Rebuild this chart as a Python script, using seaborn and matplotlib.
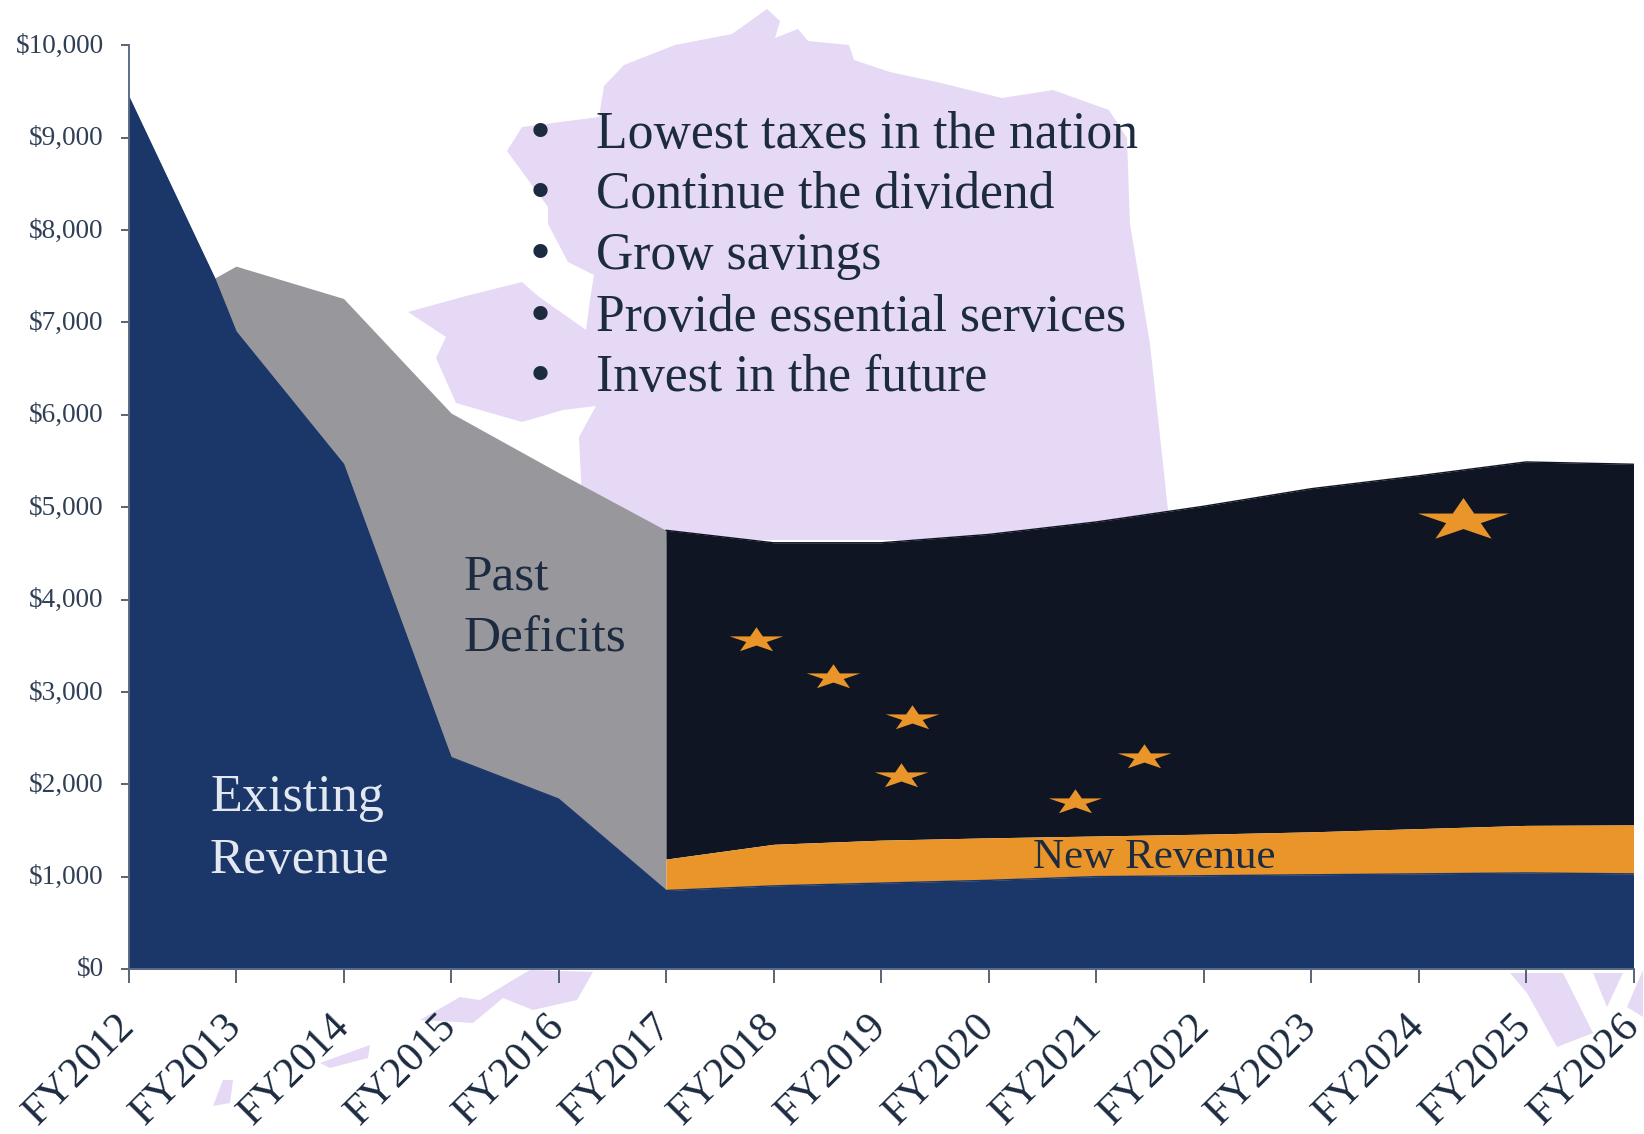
from matplotlib import pyplot as plt
from matplotlib.patches import Polygon
from matplotlib.path import Path
from matplotlib.transforms import ScaledTranslation
import numpy as np
import pandas as pd
import seaborn as sns

years = list(range(2012, 2027))
labels = ["FY" + str(y) for y in years]

# existing revenue, extra point where the grey area starts
existing_years = [2012, 2012.8, 2013, 2014, 2015, 2016, 2017, 2018, 2019, 2020, 2021, 2022, 2023, 2024, 2025, 2026]
existing = [9450, 7480, 6900, 5465, 2290, 1840, 850, 900, 930, 960, 1000, 1010, 1020, 1030, 1040, 1030]

deficit_years = [2012.8, 2013, 2014, 2015, 2016, 2017]
deficit_top = [7480, 7610, 7260, 6020, 5375, 4750]

future_years = [2017, 2018, 2019, 2020, 2021, 2022, 2023, 2024, 2025, 2026]
future_base = [850, 900, 930, 960, 1000, 1010, 1020, 1030, 1040, 1030]
new_revenue_top = [1190, 1350, 1395, 1420, 1440, 1460, 1485, 1520, 1555, 1560]
gap_top = [4750, 4615, 4615, 4705, 4840, 5010, 5200, 5340, 5490, 5465]

star_x = [2017.84, 2018.55, 2019.29, 2019.19, 2020.80, 2021.45]
star_y = [3560, 3160, 2716, 2089, 1807, 2294]
big_star_x = [2024.41]
big_star_y = [4860]

bullets = ["Lowest taxes in the nation", "Continue the dividend", "Grow savings",
           "Provide essential services", "Invest in the future"]

BLUE = "#1b3769"
GREY = "#98979c"
BLACK = "#0f1522"
ORANGE = "#e9952a"
INK = "#1c2b40"
MAP = "#e6d9f5"
W, H = 1644, 1134

sns.set_style("white")
plt.rcParams["font.family"] = ["Liberation Serif", "DejaVu Serif"]

fig = plt.figure(figsize=(W / 100, H / 100), dpi=100)
ax = fig.add_axes([128.5 / W, 1 - 969 / H, 1505 / W, 923.6 / H])
ax.patch.set_alpha(0)


def px(x, y):
    return x / W, 1 - y / H


# map behind the chart, in picture pixels
map_shapes = [
    [(767, 9), (780, 21), (775, 38), (798, 29), (808, 41), (849, 45), (854, 60), (890, 72), (941, 83),
     (1002, 98), (1053, 90), (1109, 110), (1127, 138), (1130, 224), (1150, 344), (1168, 510), (1168, 540),
     (584, 540), (579, 437), (596, 406), (563, 410), (522, 422), (456, 403), (436, 358), (446, 337),
     (408, 312), (466, 296), (522, 282), (538, 296), (586, 330), (590, 300), (594, 275), (568, 262),
     (548, 224), (548, 207), (507, 151), (522, 127), (599, 117), (604, 86), (624, 65), (675, 45), (732, 34)],
    [(513, 980), (530, 970), (593, 972), (577, 1000), (533, 1010), (503, 998), (473, 1023), (420, 1020),
     (460, 997), (480, 1000)],
    [(320, 1063), (370, 1045), (368, 1058), (330, 1068)],
    [(223, 1080), (233, 1080), (230, 1103), (213, 1106)],
    [(1510, 973), (1563, 973), (1593, 1033), (1557, 1047), (1527, 993)],
    [(1593, 973), (1623, 973), (1607, 1007)],
    [(1643, 970), (1643, 1017), (1627, 1007)],
]
for shape in map_shapes:
    fig.add_artist(Polygon([px(*p) for p in shape], closed=True, transform=fig.transFigure,
                           facecolor=MAP, edgecolor="none", zorder=-1))

ax.fill_between(deficit_years, 0, deficit_top, color=GREY, lw=0)
ax.fill_between(future_years, new_revenue_top, gap_top, color=BLACK, lw=0)
ax.fill_between(future_years, future_base, new_revenue_top, color=ORANGE, lw=0)
ax.fill_between(existing_years, 0, existing, color=BLUE, lw=0)

sns.lineplot(x=future_years, y=gap_top, color=BLACK, lw=1, ax=ax)
sns.lineplot(x=existing_years, y=existing, color=BLUE, lw=1, ax=ax)

# the stars in the picture are squashed flat
star = Path.unit_regular_star(5, 0.381)
flat_star = Path(star.vertices * np.array([1, 0.47]), star.codes)
sns.scatterplot(x=star_x, y=star_y, marker=flat_star, s=1490, color=ORANGE, linewidth=0, ax=ax)
sns.scatterplot(x=big_star_x, y=big_star_y, marker=flat_star, s=4300, color=ORANGE, linewidth=0, ax=ax)

ax.set_xlim(2012, 2026)
ax.set_ylim(0, 10000)
ax.set_yticks(range(0, 10001, 1000))
ax.set_yticklabels(["${:,}".format(v) for v in range(0, 10001, 1000)], fontsize=19.6, color="#2f3f55")
ax.set_xticks(years)
ax.set_xticklabels(labels, fontsize=30.5, color=INK, rotation=45, ha="right", va="center",
                   rotation_mode="anchor")
ax.tick_params(axis="y", length=6, width=1.2, color="#3b4a5e", pad=12, left=True)
ax.tick_params(axis="x", length=10, width=1.2, color="#3b4a5e", pad=27, bottom=True)
up = ScaledTranslation(0, 2 / 100, fig.dpi_scale_trans)
for tick_label in ax.get_yticklabels():
    tick_label.set_transform(tick_label.get_transform() + up)
sns.despine(ax=ax)
for side in ["left", "bottom"]:
    ax.spines[side].set_color("#5a6b85")
    ax.spines[side].set_linewidth(1.4)

baselines = [148, 208, 268.5, 331, 391.5]
for text, y in zip(bullets, baselines):
    fig.text(*px(596, y), text, fontsize=37.2, color=INK, va="baseline")
    fig.text(*px(540, y - 12), "\u2022", fontsize=43, color=INK, ha="center", va="center")

fig.text(*px(464, 589), "Past", fontsize=37, color=INK, va="baseline")
fig.text(*px(464, 651), "Deficits", fontsize=37, color=INK, va="baseline")
fig.text(*px(210, 811), "Existing", fontsize=37.5, color="#e3e8f0", va="baseline")
fig.text(*px(210, 873), "Revenue", fontsize=37, color="#e3e8f0", va="baseline")
fig.text(*px(1033, 868), "New Revenue", fontsize=31, color=INK, va="baseline")

fig.savefig("out.png", dpi=100)
